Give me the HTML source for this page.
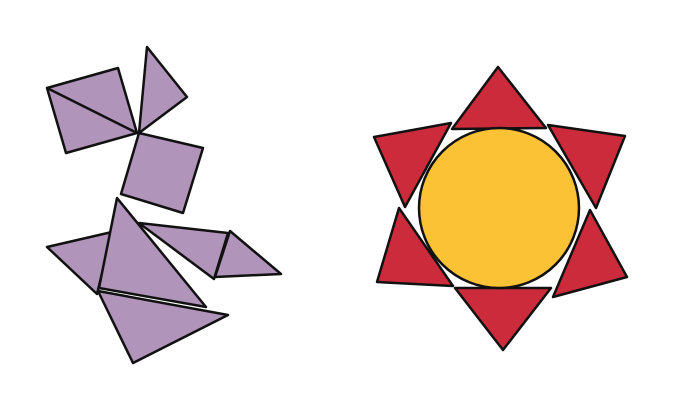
<!DOCTYPE html>
<html><head><meta charset="utf-8"><style>html,body{margin:0;padding:0;background:#fff}svg{display:block}</style></head>
<body>
<svg width="697" height="410" viewBox="0 0 697 410">
<g fill="#b094ba" stroke="#111" stroke-width="2.5" stroke-linejoin="round">
<polygon points="47,88 118,68 137,133 66,153"/>
<line x1="47" y1="88" x2="137" y2="133"/>
<polygon points="147,47 187,97 139,133"/>
<polygon points="139,133 203,148 183,213 121,194"/>
<polygon points="47,247 112,232 97,294"/>
<polygon points="117,198 206,307 99,288"/>
<polygon points="139,223 228,233 214,279"/>
<polygon points="230,231 281,274 215,277"/>
<polygon points="98,291 228,315 133,363"/>
</g>
<g fill="#cc2b3b" stroke="#111" stroke-width="2.5" stroke-linejoin="round">
<polygon points="498,67 546,128 452,129"/>
<polygon points="548,125 625,136 596,208"/>
<polygon points="590,210 627,277 553,297"/>
<polygon points="455,288 551,288 503,350"/>
<polygon points="399,208 453,286 377,282"/>
<polygon points="374,137 451,123 405,207"/>
</g>
<ellipse cx="499" cy="208" rx="80" ry="80" fill="#fbc236" stroke="#111" stroke-width="2.5"/>
</svg>
</body></html>
